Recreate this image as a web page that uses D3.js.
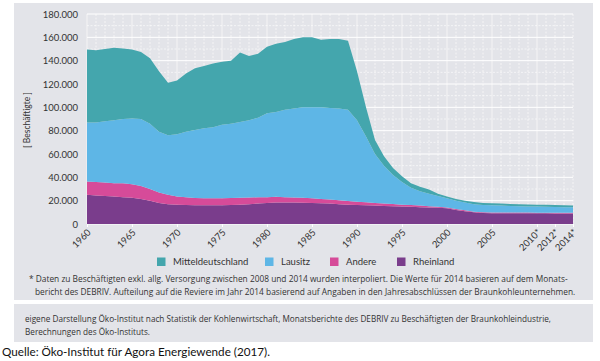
<!DOCTYPE html>
<html>
<head>
<meta charset="utf-8">
<script src="https://cdn.jsdelivr.net/npm/d3@7"></script>
<style>
  body { margin: 0; background: #fff; }
  svg { display: block; }
</style>
</head>
<body>
<div id="chart"></div>
<script>
// Beschäftigte in der Braunkohle nach Revier, in Tausend
const years = d3.range(1960, 2015);

const rheinland = [25, 24.5, 24, 23.5, 23, 22.5, 21.5, 20, 18, 17,
  16.5, 16.3, 16, 16, 16, 16, 16.2, 16.5, 17, 17.5,
  18, 18.5, 18.5, 18.5, 18.3, 18, 17.7, 17.5, 17, 16.5,
  16.3, 16, 15.8, 15.5, 15.3, 15, 14.7, 14.4, 14.2, 14,
  13.4, 12, 11, 10, 9.4, 9.2, 9.2, 9.3, 9.3, 9.3,
  9.2, 9.2, 9.1, 9.1, 9.1];

const andere = [11.5, 11.5, 11.5, 11.5, 12, 11.5, 11, 10, 9, 8,
  7, 6.7, 6.3, 6, 6, 6, 6.1, 6, 5.7, 5.4,
  5, 4.8, 4.5, 4.3, 4.2, 4, 3.8, 3.5, 3.3, 3.2,
  2.8, 2.6, 2.3, 2.1, 1.8, 1.6, 1.5, 1.4, 1.1, 0.8,
  0.8, 0.8, 0.7, 0.6, 0.6, 0.6, 0.6, 0.5, 0.5, 0.5,
  0.5, 0.5, 0.5, 0.5, 0.5];

const lausitz = [50.5, 51, 52.5, 54, 55, 56.5, 57.5, 56, 52, 51,
  53.5, 56, 58.2, 60, 61, 63, 63.7, 65, 66.3, 68.1,
  72, 72.7, 75, 76.2, 77.5, 78, 78.5, 78.5, 78.7, 78.3,
  69.9, 56.4, 41.9, 32.4, 24.9, 19.4, 14.8, 12.2, 10.7, 9.2,
  7.8, 7.2, 6.8, 6.4, 6.3, 6.2, 6, 5.7, 5.5, 5.3,
  5.3, 5.1, 5, 4.8, 4.7];

const mitteldeutschland = [62.5, 62, 62, 62, 60.5, 59, 57.5, 56, 52, 45,
  46, 50, 53, 53.5, 54.5, 54, 54, 59.5, 55, 55,
  57, 58.5, 58, 59.5, 60, 60, 58, 59, 59.5, 59,
  42, 25, 12, 8, 6, 5, 4, 4, 3.5, 2,
  1.5, 1.5, 1.5, 1.8, 1.7, 1.7, 1.7, 1.7, 1.7, 1.7,
  1.6, 1.6, 1.6, 1.6, 1.5];

const stackKeys = ["rheinland", "andere", "lausitz", "mitteldeutschland"];
const legendNames = ["Mitteldeutschland", "Lausitz", "Andere", "Rheinland"];
const legendKeys = ["mitteldeutschland", "lausitz", "andere", "rheinland"];
const colors = {
  mitteldeutschland: "#44a6ad",
  lausitz: "#5eb6e6",
  andere: "#d64b99",
  rheinland: "#7a3d8c"
};

const tickYears = [1960, 1965, 1970, 1975, 1980, 1985, 1990, 1995, 2000, 2005, 2010, 2012, 2014];
const tickLabels = ["1960", "1965", "1970", "1975", "1980", "1985", "1990", "1995", "2000", "2005", "2010*", "2012*", "2014*"];
const yTicks = [0, 20, 40, 60, 80, 100, 120, 140, 160, 180];

const footnote = [
  "* Daten zu Beschäftigten exkl. allg. Versorgung zwischen 2008 und 2014 wurden interpoliert. Die Werte für 2014 basieren auf dem Monats-",
  "bericht des DEBRIV. Aufteilung auf die Reviere im Jahr 2014 basierend auf Angaben in den Jahresabschlüssen der Braunkohleunternehmen."
];
const sourceNote = [
  "eigene Darstellung Öko-Institut nach Statistik der Kohlenwirtschaft, Monatsberichte des DEBRIV zu Beschäftigten der Braunkohleindustrie,",
  "Berechnungen des Öko-Instituts."
];
const quelle = "Quelle: Öko-Institut für Agora Energiewende (2017).";

const W = 600, H = 361;
const panel = "#e3e4e9";
const chartFont = "Lato, 'Open Sans', sans-serif";
const noteFont = "'Open Sans', 'Noto Sans', sans-serif";

const svg = d3.select("#chart").append("svg")
  .attr("width", W)
  .attr("height", H);

// grey panels
svg.append("rect").attr("x", 14).attr("y", 3).attr("width", 579).attr("height", 297).attr("fill", panel);
svg.append("rect").attr("x", 14).attr("y", 304).attr("width", 579).attr("height", 38).attr("fill", panel);

const x = d3.scaleLinear().domain([1960, 2014]).range([87, 573]);
const y = d3.scaleLinear().domain([0, 180]).range([224, 14]);

const de = d3.formatLocale({ decimal: ",", thousands: ".", grouping: [3], currency: ["", " €"] });
const fmt = de.format(",d");

// grid
const grid = svg.append("g");
grid.selectAll("line.v").data(years).join("line")
  .attr("x1", d => x(d)).attr("x2", d => x(d))
  .attr("y1", y(180)).attr("y2", y(0))
  .attr("stroke", "#fff")
  .attr("stroke-width", 0.7)
  .attr("stroke-dasharray", d => d % 5 === 0 ? null : "2,1.5")
  .attr("opacity", 0.9);
grid.selectAll("line.h").data(d3.range(0, 181, 10)).join("line")
  .attr("x1", x(1960)).attr("x2", x(2014))
  .attr("y1", d => y(d)).attr("y2", d => y(d))
  .attr("stroke", "#fff")
  .attr("stroke-width", d => d % 20 === 0 ? 1 : 0.6)
  .attr("stroke-dasharray", d => d % 20 === 0 ? null : "2,1.5");

// stacked areas
const table = years.map((yr, i) => ({
  year: yr,
  rheinland: rheinland[i],
  andere: andere[i],
  lausitz: lausitz[i],
  mitteldeutschland: mitteldeutschland[i]
}));
const stacked = d3.stack().keys(stackKeys)(table);
const area = d3.area()
  .x(d => x(d.data.year))
  .y0(d => y(d[0]))
  .y1(d => y(d[1]));

svg.append("g").selectAll("path").data(stacked).join("path")
  .attr("fill", d => colors[d.key])
  .attr("d", area);

// y axis
const yAxis = svg.append("g")
  .attr("transform", `translate(${x(1960)},0)`)
  .call(d3.axisLeft(y).tickValues(yTicks).tickFormat(d => fmt(d * 1000)).tickSize(0).tickPadding(9));
yAxis.select(".domain").remove();
yAxis.selectAll("text")
  .attr("font-family", chartFont)
  .attr("font-size", 9.5)
  .attr("fill", "#333");

svg.append("text")
  .attr("transform", `translate(30,120) rotate(-90)`)
  .attr("text-anchor", "middle")
  .attr("font-family", chartFont)
  .attr("font-size", 8.5)
  .attr("fill", "#333")
  .text("[ Beschäftigte ]");

// x axis
const xAxis = svg.append("g")
  .attr("transform", `translate(0,${y(0)})`)
  .call(d3.axisBottom(x).tickValues(tickYears).tickFormat((d, i) => tickLabels[i]).tickSize(3));
xAxis.select(".domain").remove();
xAxis.selectAll("line").attr("stroke", "#fff");
xAxis.selectAll("text")
  .attr("font-family", chartFont)
  .attr("font-size", 9.5)
  .attr("fill", "#333")
  .attr("text-anchor", "end")
  .attr("dy", null)
  .attr("y", 0)
  .attr("transform", "translate(4,9) rotate(-45)");

// legend
const legend = svg.append("g").attr("transform", "translate(0,262)");
const legendX = [157, 265, 330, 397];
const items = legend.selectAll("g").data(legendKeys).join("g")
  .attr("transform", (d, i) => `translate(${legendX[i]},0)`);
items.append("rect")
  .attr("x", 0).attr("y", -4.5)
  .attr("width", 8.5).attr("height", 8.5)
  .attr("fill", d => colors[d]);
items.append("text")
  .attr("x", 16).attr("y", 3.3)
  .attr("font-family", chartFont)
  .attr("font-size", 9.5)
  .attr("fill", "#333")
  .text((d, i) => legendNames[i]);

// notes
svg.append("g").selectAll("text").data(footnote).join("text")
  .attr("x", (d, i) => i === 0 ? 29 : 35)
  .attr("y", (d, i) => 281.5 + i * 13)
  .attr("font-family", noteFont)
  .attr("font-size", 8.35)
  .attr("fill", "#333")
  .text(d => d);

svg.append("g").selectAll("text").data(sourceNote).join("text")
  .attr("x", 25)
  .attr("y", (d, i) => 322 + i * 13)
  .attr("font-family", noteFont)
  .attr("font-size", 8.2)
  .attr("fill", "#333")
  .text(d => d);

svg.append("text")
  .attr("x", 2).attr("y", 356)
  .attr("font-family", "Lato, 'Open Sans', sans-serif")
  .attr("font-size", 11.7)
  .attr("fill", "#111")
  .text(quelle);
</script>
</body>
</html>
